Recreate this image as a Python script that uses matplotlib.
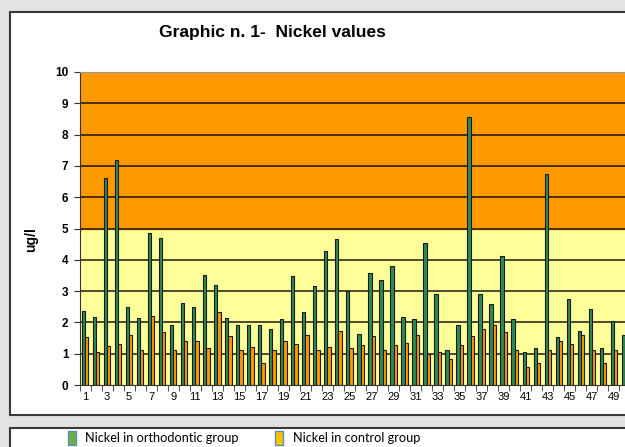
import numpy as np
import matplotlib.pyplot as plt
from matplotlib.patches import Rectangle, Patch

# Nickel values (ug/l) for subjects 1..50
subjects = np.arange(1, 51)
ortho = [2.38, 2.17, 6.6, 7.2, 2.5, 2.13, 4.85, 4.7, 1.91, 2.61,
         2.5, 3.5, 3.21, 2.13, 1.91, 1.91, 1.91, 1.8, 2.1, 3.47,
         2.33, 3.17, 4.28, 4.68, 2.99, 1.62, 3.57, 3.36, 3.8, 2.17,
         2.1, 4.53, 2.92, 1.11, 1.91, 8.57, 2.92, 2.58, 4.12, 2.1,
         1.05, 1.18, 6.73, 1.52, 2.76, 1.74, 2.42, 1.18, 2.03, 1.59]
control = [1.52, 1.04, 1.25, 1.32, 1.59, 1.12, 2.21, 1.69, 1.11, 1.41,
           1.41, 1.18, 2.33, 1.55, 1.11, 1.21, 0.7, 1.11, 1.41, 1.32,
           1.59, 1.11, 1.21, 1.71, 1.17, 1.28, 1.55, 1.11, 1.28, 1.33,
           1.59, 0.99, 1.04, 0.82, 1.28, 1.55, 1.8, 1.91, 1.7, 1.11,
           0.59, 0.7, 1.11, 1.41, 1.32, 1.59, 1.11, 0.7, 1.11, 1.28]

W, H = 625, 447
fig = plt.figure(figsize=(W / 100, H / 100), dpi=100)
fig.patch.set_facecolor('#e3e3e3')

# chart box and legend box (both run past the right edge)
fig.patches.append(Rectangle((10 / W, 1 - 415 / H), 1.0, (415 - 12) / H,
                             transform=fig.transFigure, facecolor='white',
                             edgecolor='#3a3a3a', lw=1.5, zorder=-2))
fig.patches.append(Rectangle((10 / W, -0.1), 1.0, 0.1 + (447 - 428) / H,
                             transform=fig.transFigure, facecolor='white',
                             edgecolor='#3a3a3a', lw=1.5, zorder=-2))

ax = fig.add_axes([79.5 / W, 1 - 385 / H, 551 / W, 313 / H])
ax.set_xlim(0.5, 50.5)
ax.set_ylim(0, 10)

ax.axhspan(0, 5, color='#ffff99', zorder=0)
ax.axhspan(5, 10, color='#ff9900', zorder=0)
for v in range(1, 10):
    ax.axhline(v, color='black', alpha=0.7, lw=1.4, zorder=1)

bw = 0.3
ax.bar(subjects - bw / 2, ortho, bw, color='#2e8b57', edgecolor='#1a1a1a', lw=0.8, zorder=2)
ax.bar(subjects + bw / 2, control, bw, color='#ff9900', edgecolor='#1a1a1a', lw=0.8, zorder=2)

ax.set_yticks(range(0, 11))
ax.set_xticks(subjects[::2])
ax.set_xticks(np.arange(0.5, 51, 1), minor=True)
ax.tick_params(axis='x', which='major', length=0, pad=5, labelsize=8)
ax.tick_params(axis='x', which='minor', length=4, direction='out', color='#333333')
ax.tick_params(axis='y', length=4, direction='out', color='#333333', labelsize=8.5, pad=4)
for lab in ax.get_xticklabels() + ax.get_yticklabels():
    lab.set_fontfamily('Liberation Sans')
for lab in ax.get_yticklabels():
    lab.set_fontweight('bold')
ax.spines['right'].set_visible(False)
ax.spines['top'].set_color('#999999')
ax.spines['left'].set_color('#333333')
ax.spines['bottom'].set_color('#333333')

fig.text(272 / W, 1 - 33 / H, "Graphic n. 1-  Nickel values", ha='center', va='center',
         fontsize=12.5, fontweight='bold', family='Liberation Sans')
fig.text(31 / W, 1 - 240 / H, "ug/l", ha='center', va='center', rotation=90,
         fontsize=10, fontweight='bold', family='Liberation Sans')

handles = [Patch(facecolor='#70ad47', edgecolor='#5a8fb8', label='Nickel in orthodontic group'),
           Patch(facecolor='#ffc000', edgecolor='#5a8fb8', label='Nickel in control group')]
fig.legend(handles=handles, ncol=2, loc='center left', bbox_to_anchor=(56 / W, 1 - 438 / H),
           frameon=False, handlelength=0.65, handleheight=1.37,
           handletextpad=0.75, columnspacing=2.8, prop={'family': 'Lato', 'size': 9.2})

fig.savefig('out.png', dpi=100, facecolor=fig.get_facecolor())
